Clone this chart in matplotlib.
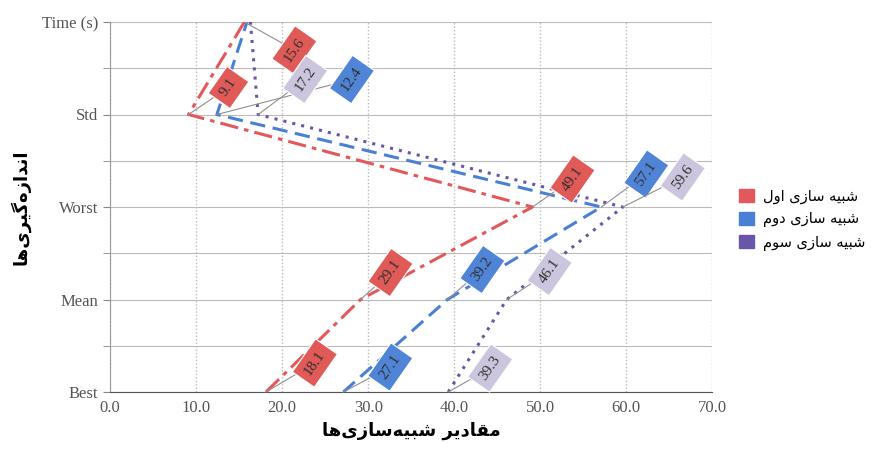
import matplotlib.pyplot as plt
from matplotlib.patches import Patch

## Persian text: matplotlib has no shaping, so pick presentation forms by hand
FORMS = {  # isolated, final, initial, medial
    '\u0627': ('\uFE8D', '\uFE8E', None, None),
    '\u0628': ('\uFE8F', '\uFE90', '\uFE91', '\uFE92'),
    '\u062F': ('\uFEA9', '\uFEAA', None, None),
    '\u0631': ('\uFEAD', '\uFEAE', None, None),
    '\u0632': ('\uFEAF', '\uFEB0', None, None),
    '\u0633': ('\uFEB1', '\uFEB2', '\uFEB3', '\uFEB4'),
    '\u0634': ('\uFEB5', '\uFEB6', '\uFEB7', '\uFEB8'),
    '\u0642': ('\uFED5', '\uFED6', '\uFED7', '\uFED8'),
    '\u0644': ('\uFEDD', '\uFEDE', '\uFEDF', '\uFEE0'),
    '\u0645': ('\uFEE1', '\uFEE2', '\uFEE3', '\uFEE4'),
    '\u0646': ('\uFEE5', '\uFEE6', '\uFEE7', '\uFEE8'),
    '\u0647': ('\uFEE9', '\uFEEA', '\uFEEB', '\uFEEC'),
    '\u0648': ('\uFEED', '\uFEEE', None, None),
    '\u06CC': ('\uFBFC', '\uFBFD', '\uFBFE', '\uFBFF'),
    '\u06AF': ('\uFB92', '\uFB93', '\uFB94', '\uFB95'),
}


def fa(s):
    out = []
    for i, c in enumerate(s):
        if c not in FORMS:
            if c != '\u200c':
                out.append(c)
            continue
        prev = s[i - 1] if i > 0 else ''
        nxt = s[i + 1] if i + 1 < len(s) else ''
        jp = prev in FORMS and FORMS[prev][2] is not None
        jn = FORMS[c][2] is not None and nxt in FORMS
        iso, fin, ini, med = FORMS[c]
        if jp and jn:
            out.append(med)
        elif jp:
            out.append(fin)
        elif jn:
            out.append(ini)
        else:
            out.append(iso)
    return ''.join(out[::-1])


## data
metrics = ['Best', 'Mean', 'Worst', 'Std', 'Time (s)']
series_names = ['شبیه سازی اول', 'شبیه سازی دوم', 'شبیه سازی سوم']
sim1 = [18.1, 29.1, 49.1, 9.1, 15.6]
sim2 = [27.1, 39.2, 57.1, 12.4, 15.9]
sim3 = [39.3, 46.1, 59.6, 17.2, 16.3]
x_label = 'مقادیر شبیه\u200cسازی\u200cها'
y_label = 'اندازه\u200cگیری\u200cها'

## styles
line_colors = ['#e3585a', '#4a80d4', '#6a56a8']
box_colors = ['#e05a57', '#4f84d6', '#cbc6de']
dashes = [(0, (6, 2, 1.5, 2)), (0, (5, 2.5)), (0, (1, 2))]
# label offsets in pixels (right, down), None = label hidden
offsets = [
    [(49, -29), (30, -27), (40, -28), (40, -27), (50, 28)],
    [(47, -25), (35, -30), (45, -33), (135, -35), None],
    [(42, -24), (43, -28), (60, -30), (47, -35), None],
]

serif = ['Liberation Serif', 'DejaVu Serif']
persian = ['DejaVu Sans']

fig = plt.figure(figsize=(8.75, 4.58), dpi=100)
ax = fig.add_axes([0.126, 0.144, 0.688, 0.808])

ypos = list(range(len(metrics)))
for k, vals in enumerate([sim1, sim2, sim3]):
    ax.plot(vals, ypos, color=line_colors[k], linestyle=dashes[k], lw=2.2,
            zorder=3)
    for v, y, off in zip(vals, ypos, offsets[k]):
        if off is None:
            continue
        ax.annotate('%.1f' % v, xy=(v, y), xytext=(off[0] * 0.72, -off[1] * 0.72),
                    textcoords='offset points', ha='center', va='center',
                    rotation=55, fontsize=11, family=serif, color='#303030',
                    bbox=dict(boxstyle='square,pad=0.45', fc=box_colors[k],
                              ec='white', lw=0.8),
                    arrowprops=dict(arrowstyle='-', color='#909090', lw=0.8,
                                    shrinkA=0, shrinkB=0),
                    zorder=5)

ax.set_xlim(0, 70)
ax.set_ylim(0, 4)
ax.set_xticks(range(0, 71, 10))
ax.set_xticklabels(['%.1f' % t for t in range(0, 71, 10)], family=serif,
                   fontsize=12, color='#555555')
ax.set_yticks(ypos)
ax.set_yticklabels(metrics, family=serif, fontsize=12, color='#555555')
ax.set_yticks([0.5, 1.5, 2.5, 3.5], minor=True)
ax.tick_params(axis='y', which='both', length=5, color='#888888')
ax.tick_params(axis='x', length=0, pad=6)

ax.grid(axis='y', which='both', color='#bbbbbb', lw=0.8)
ax.grid(axis='x', which='major', color='#bbbbbb', lw=1, linestyle=(0, (1, 1.5)))
for side in ['top', 'right']:
    ax.spines[side].set_visible(False)
ax.spines['left'].set_color('#999999')
ax.spines['bottom'].set_color('#555555')

ax.set_xlabel(fa(x_label), family=persian, fontsize=13, fontweight='bold',
              labelpad=4)
ax.set_ylabel(fa(y_label), family=persian, fontsize=13, fontweight='bold',
              labelpad=8)

handles = [Patch(color=line_colors[k]) for k in range(3)]
fig.legend(handles, [fa(n) for n in series_names], loc='center left',
           bbox_to_anchor=(0.83, 0.52), frameon=False, handlelength=1.0,
           handleheight=1.0, handletextpad=0.6, labelspacing=0.5,
           prop={'family': persian, 'size': 10.5})

fig.savefig('out.png', dpi=100)
